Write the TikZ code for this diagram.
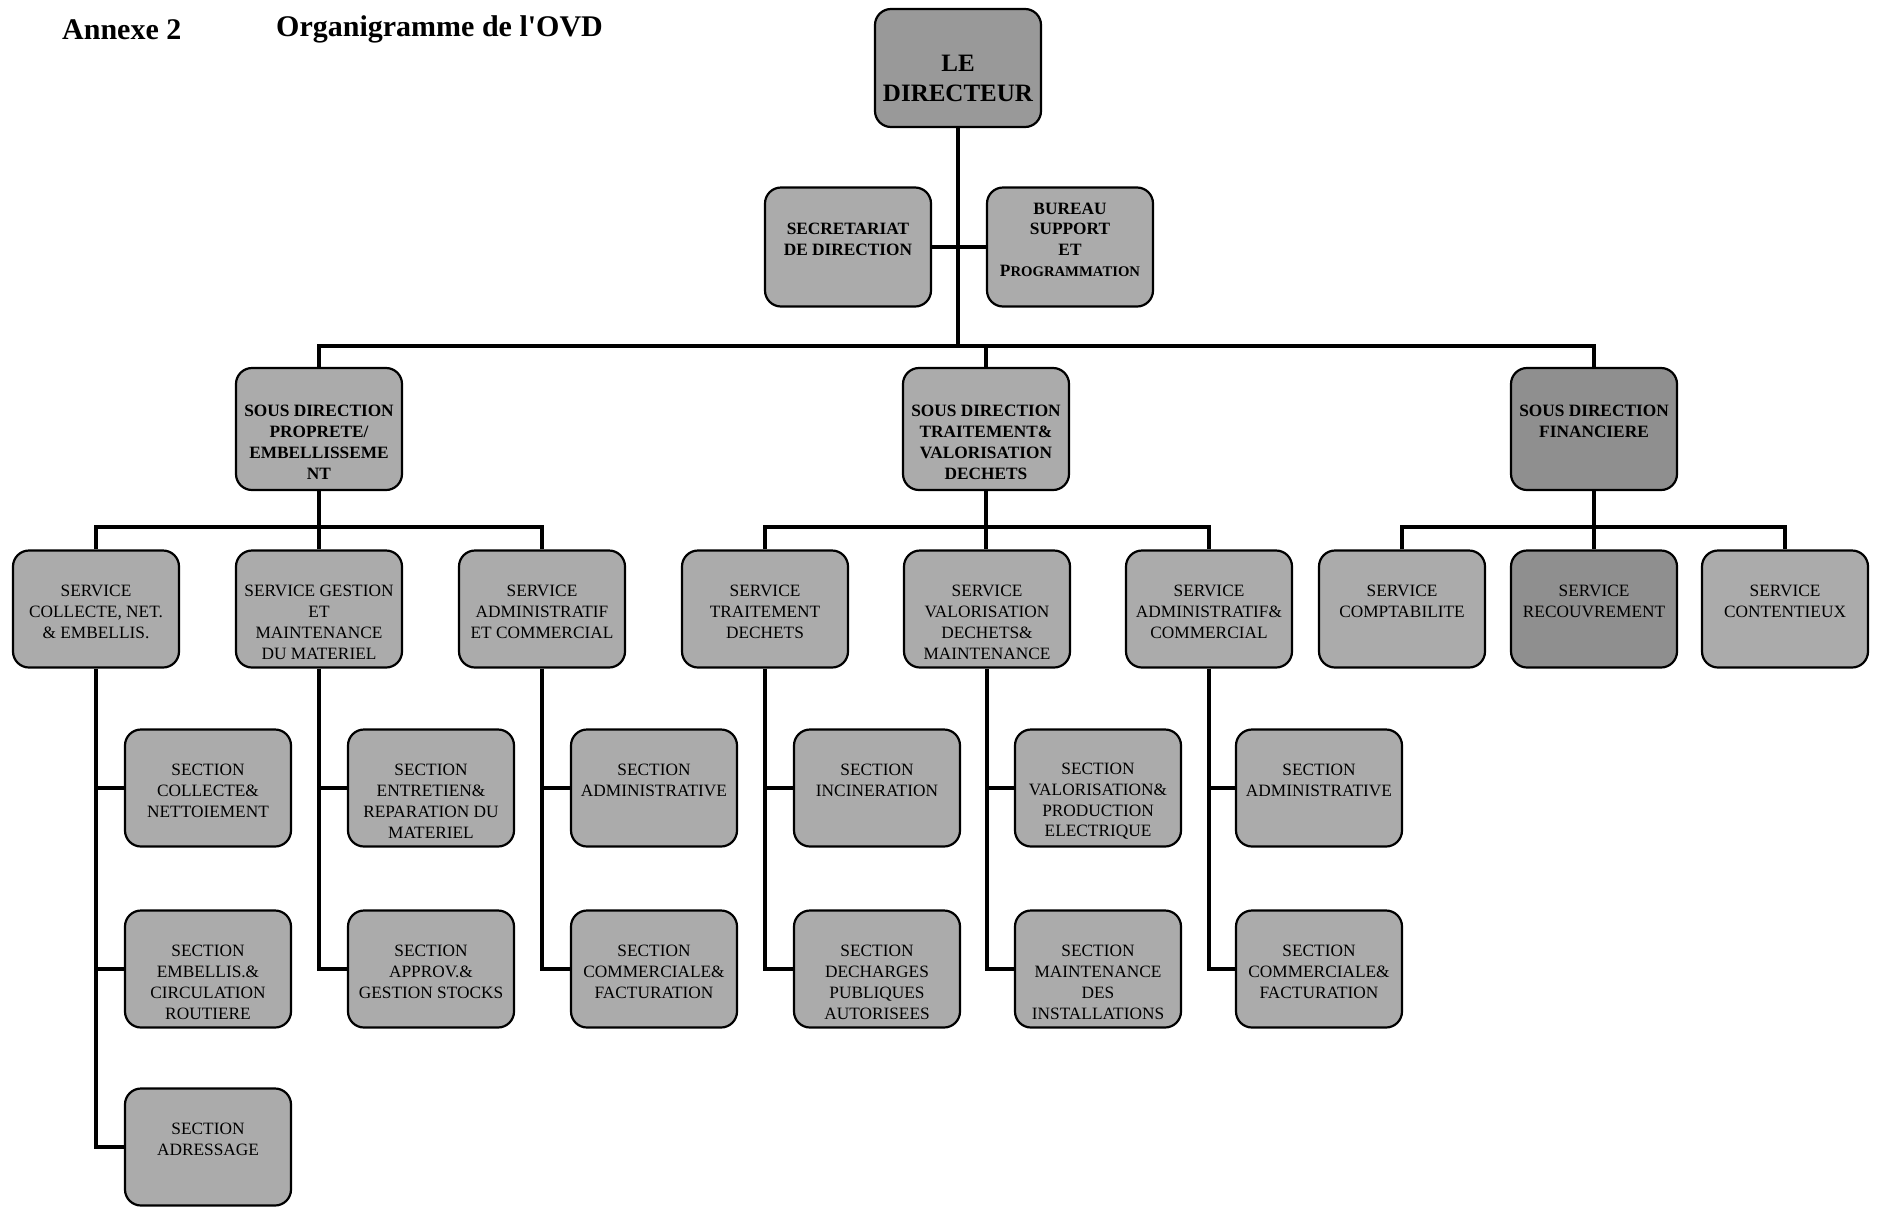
\documentclass[tikz,border=0pt]{standalone}
\usepackage{fontspec}
\setmainfont{Liberation Serif}
\newfontfamily\plainserif{Liberation Serif}
\definecolor{boxgray}{gray}{0.67}
\definecolor{boxdark}{gray}{0.56}
\definecolor{boxmid}{gray}{0.60}
\newcommand\orgblank{\rule{0pt}{11.5pt}}
% box node (no text) + centred text node
\newcommand\orgnode[5]{%
  \node[orgbox,#1] (#3) at (#4) {};
  \node[orgtext,#2] (#3-t) at ([yshift=-3pt]#3.center) {#5};}
\begin{document}
\begin{tikzpicture}[x=1pt,y=-1pt,
  orgbox/.style={draw=black, line width=2.2pt, rounded corners=16pt, fill=boxgray,
    minimum width=166pt, minimum height=117pt, inner sep=0pt},
  orgtext/.style={align=center, inner sep=0pt, font=\fontsize{17.3}{20.8}\selectfont},
  headtext/.style={font=\fontsize{17.3}{20.8}\selectfont\bfseries},
  darkbox/.style={fill=boxdark},
  conn/.style={draw=black, line width=4pt, line join=miter},
  titletext/.style={anchor=west, inner sep=0pt, font=\fontsize{30}{34}\selectfont\bfseries}]
\useasboundingbox (0,0) rectangle (1879,1208);
\fill[white] (0,0) rectangle (1879,1208);

% title
\node[titletext] (t1) at (62,29.5) {Annexe 2};
\node[titletext] (t2) at (276,29.5) {Organigramme de l{\plainserif\bfseries '}OVD};

% top
\orgnode{fill=boxmid, minimum height=118pt}{font=\fontsize{25}{30}\selectfont\bfseries, yshift=-7pt}{dir}{958,68}{LE\\DIRECTEUR}
\orgnode{minimum height=119pt}{headtext}{sec}{848,247}{SECRETARIAT\\DE DIRECTION\\\mbox{}}
\orgnode{minimum height=119pt}{headtext}{bur}{1070,247}{BUREAU\\SUPPORT\\ET\\P{\fontsize{14.7}{20.8}\selectfont ROGRAMMATION}\\\mbox{}}

% sous directions
\orgnode{minimum height=122pt}{headtext}{sd1}{319,429}{\orgblank\\SOUS DIRECTION\\PROPRETE/\\EMBELLISSEME\\NT}
\orgnode{minimum height=122pt}{headtext}{sd2}{986,429}{\orgblank\\SOUS DIRECTION\\TRAITEMENT\&\\VALORISATION\\DECHETS}
\orgnode{darkbox, minimum height=122pt}{headtext}{sd3}{1594,429}{SOUS DIRECTION\\FINANCIERE\\\mbox{}}

% services
\orgnode{}{}{s11}{96,609}{SERVICE\\COLLECTE, NET.\\\& EMBELLIS.}
\orgnode{}{}{s12}{319,609}{\orgblank\\SERVICE GESTION\\ET\\MAINTENANCE\\DU MATERIEL}
\orgnode{}{}{s13}{542,609}{SERVICE\\ADMINISTRATIF\\ET COMMERCIAL}
\orgnode{}{}{s21}{765,609}{SERVICE\\TRAITEMENT\\DECHETS}
\orgnode{}{}{s22}{987,609}{\orgblank\\SERVICE\\VALORISATION\\DECHETS\&\\MAINTENANCE}
\orgnode{}{}{s23}{1209,609}{SERVICE\\ADMINISTRATIF\&\\COMMERCIAL}
\orgnode{}{}{s31}{1402,609}{SERVICE\\COMPTABILITE\\\mbox{}}
\orgnode{darkbox}{}{s32}{1594,609}{SERVICE\\RECOUVREMENT\\\mbox{}}
\orgnode{}{}{s33}{1785,609}{SERVICE\\CONTENTIEUX\\\mbox{}}

% sections
\orgnode{}{}{a1}{208,788}{SECTION\\COLLECTE\&\\NETTOIEMENT}
\orgnode{}{}{a2}{208,969}{\orgblank\\SECTION\\EMBELLIS.\&\\CIRCULATION\\ROUTIERE}
\orgnode{}{}{a3}{208,1147}{SECTION\\ADRESSAGE\\\mbox{}}
\orgnode{}{}{b1}{431,788}{\orgblank\\SECTION\\ENTRETIEN\&\\REPARATION DU\\MATERIEL}
\orgnode{}{}{b2}{431,969}{SECTION\\APPROV.\&\\GESTION STOCKS}
\orgnode{}{}{c1}{654,788}{SECTION\\ADMINISTRATIVE\\\mbox{}}
\orgnode{}{}{c2}{654,969}{SECTION\\COMMERCIALE\&\\FACTURATION}
\orgnode{}{}{d1}{877,788}{SECTION\\INCINERATION\\\mbox{}}
\orgnode{}{}{d2}{877,969}{\orgblank\\SECTION\\DECHARGES\\PUBLIQUES\\AUTORISEES}
\orgnode{}{}{e1}{1098,788}{\orgblank\\SECTION\\VALORISATION\&\\PRODUCTION\\ELECTRIQUE}
\orgnode{}{}{e2}{1098,969}{\orgblank\\SECTION\\MAINTENANCE\\DES\\INSTALLATIONS}
\orgnode{}{}{f1}{1319,788}{SECTION\\ADMINISTRATIVE\\\mbox{}}
\orgnode{}{}{f2}{1319,969}{SECTION\\COMMERCIALE\&\\FACTURATION}

% connector coordinates
\coordinate (bar) at (986,346);
\coordinate (b1bar) at (319,527);
\coordinate (b2bar) at (986,527);
\coordinate (b3bar) at (1594,527);

% connectors
\draw[conn] (dir.south) -- (dir.south |- bar);
\draw[conn] (sec.east) -- (bur.west);
\draw[conn] (sd1.north) |- (bar) -| (sd3.north);
\draw[conn] (sd2.north) -- (sd2.north |- bar);

\draw[conn] (s11.north) |- (b1bar) -| (s13.north);
\draw[conn] (sd1.south) -- (s12.north);
\draw[conn] (s21.north) |- (b2bar) -| (s23.north);
\draw[conn] (sd2.south) -- (sd2.south |- s22.north);
\draw[conn] (s31.north) |- (b3bar) -| (s33.north);
\draw[conn] (sd3.south) -- (s32.north);

\draw[conn] (s11.south) |- (a3.west);
\draw[conn] (a1.west) -- (a1.west -| s11.south);
\draw[conn] (a2.west) -- (a2.west -| s11.south);
\draw[conn] (s12.south) |- (b2.west);
\draw[conn] (b1.west) -- (b1.west -| s12.south);
\draw[conn] (s13.south) |- (c2.west);
\draw[conn] (c1.west) -- (c1.west -| s13.south);
\draw[conn] (s21.south) |- (d2.west);
\draw[conn] (d1.west) -- (d1.west -| s21.south);
\draw[conn] (s22.south) |- (e2.west);
\draw[conn] (e1.west) -- (e1.west -| s22.south);
\draw[conn] (s23.south) |- (f2.west);
\draw[conn] (f1.west) -- (f1.west -| s23.south);
\end{tikzpicture}
\end{document}
